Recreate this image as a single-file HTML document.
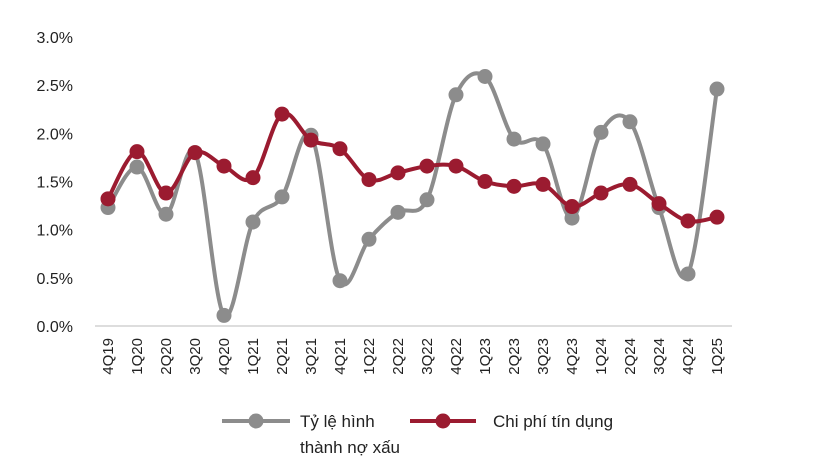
<!DOCTYPE html>
<html><head><meta charset="utf-8"><style>
body{margin:0;background:#fff;}
svg text{font-family:"Liberation Sans",sans-serif;fill:#222;}
</style></head><body>
<svg id="chart" width="835" height="471" viewBox="0 0 835 471" xmlns="http://www.w3.org/2000/svg">
<g id="yaxis"></g>
<g id="xaxis"></g>
<g id="series"></g>
<g id="legend">
  <line x1="222" y1="421" x2="290" y2="421" stroke="#8c8c8c" stroke-width="4"/>
  <circle cx="256" cy="421" r="7.5" fill="#8c8c8c"/>
  <text x="300" y="427" font-size="17">Tỷ lệ hình</text>
  <text x="300" y="453" font-size="17">thành nợ xấu</text>
  <line x1="410" y1="421" x2="476" y2="421" stroke="#9b1b30" stroke-width="4"/>
  <circle cx="443" cy="421" r="7.5" fill="#9b1b30"/>
  <text x="493" y="427" font-size="17">Chi phí tín dụng</text>
</g>
</svg>
<script>
const categories=["4Q19","1Q20","2Q20","3Q20","4Q20","1Q21","2Q21","3Q21","4Q21","1Q22","2Q22","3Q22","4Q22","1Q23","2Q23","3Q23","4Q23","1Q24","2Q24","3Q24","4Q24","1Q25"];
const nplFormation=[1.23,1.65,1.16,1.80,0.11,1.08,1.34,1.98,0.47,0.90,1.18,1.31,2.40,2.59,1.94,1.89,1.12,2.01,2.12,1.23,0.54,2.46];
const creditCost=[1.32,1.81,1.38,1.80,1.66,1.54,2.20,1.93,1.84,1.52,1.59,1.66,1.66,1.50,1.45,1.47,1.24,1.38,1.47,1.27,1.09,1.13];
const yTicks=[0,0.5,1.0,1.5,2.0,2.5,3.0];
const yTickLabels=["0.0%","0.5%","1.0%","1.5%","2.0%","2.5%","3.0%"];
const NS="http://www.w3.org/2000/svg";
const y0=326,y1=37,x0=108,x1=717;
function yScale(v){return y0-(v/3)*(y0-y1);}
function xScale(i){return x0+i*(x1-x0)/(categories.length-1);}
function mk(tag,attrs,parent){const e=document.createElementNS(NS,tag);for(const k in attrs)e.setAttribute(k,attrs[k]);parent.appendChild(e);return e;}
const ya=document.getElementById('yaxis'),xa=document.getElementById('xaxis'),sg=document.getElementById('series');
yTicks.forEach((t,i)=>{const e=mk('text',{x:73,y:yScale(t)+6,'text-anchor':'end','font-size':16},ya);e.textContent=yTickLabels[i];

});
const ax=mk('line',{x1:95,y1:y0,x2:732,y2:y0,stroke:'#bbb','stroke-width':1},xa);


categories.forEach((c,i)=>{const x=xScale(i);const e=mk('text',{x:0,y:0,'text-anchor':'end','font-size':15,transform:`translate(${x+5},338) rotate(-90)`},xa);e.textContent=c;

});
function smoothPath(vals){const p=vals.map((v,i)=>[xScale(i),yScale(v)]);let d=`M${p[0][0]},${p[0][1]}`;
for(let i=0;i<p.length-1;i++){const a=p[i-1]||p[i],b=p[i],c=p[i+1],e=p[i+2]||c;const t=0.5/3;
d+=` C${b[0]+(c[0]-a[0])*t},${b[1]+(c[1]-a[1])*t} ${c[0]-(e[0]-b[0])*t},${c[1]-(e[1]-b[1])*t} ${c[0]},${c[1]}`;}return d;}
function drawSeries(vals,color,name){const path=mk('path',{d:smoothPath(vals),fill:'none',stroke:color,'stroke-width':4,'stroke-linejoin':'round'},sg);


vals.forEach((v,i)=>{const c=mk('circle',{cx:xScale(i),cy:yScale(v),r:7.5,fill:color},sg);

});}
drawSeries(nplFormation,'#8c8c8c','npl-formation');
drawSeries(creditCost,'#9b1b30','credit-cost');
</script>
</body></html>
